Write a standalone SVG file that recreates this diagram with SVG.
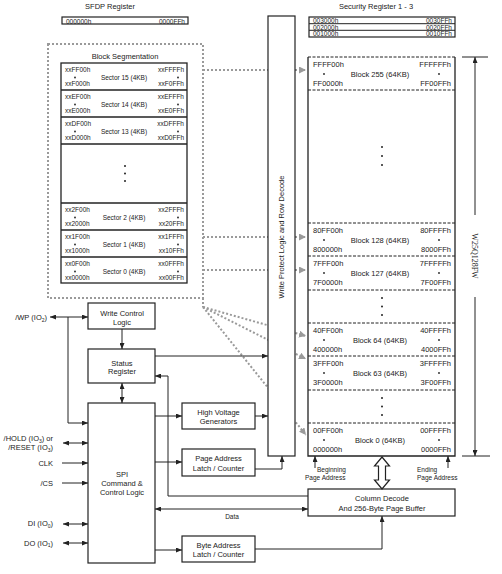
<svg xmlns="http://www.w3.org/2000/svg" width="502" height="574" viewBox="0 0 502 574">
<style>
.t{font-family:"Liberation Sans",Arial,sans-serif;fill:#222}
.a{font-size:7.5px}
.b{font-size:6.5px}
.m{text-anchor:middle}
.e{text-anchor:end}
.box{fill:#fff;stroke:#222;stroke-width:1.2}
.ln{fill:none;stroke:#222;stroke-width:1}
.dot{fill:none;stroke:#9a9a9a;stroke-width:2;stroke-dasharray:2 2}
.dsh{fill:none;stroke:#222;stroke-width:1;stroke-dasharray:3 1.5}
.bul{fill:#222}
</style>
<defs>
<marker id="ar" markerUnits="userSpaceOnUse" markerWidth="6" markerHeight="5" refX="6" refY="2.5" orient="auto-start-reverse"><path d="M0,0 L6,2.5 L0,5 z" fill="#222"/></marker>
<marker id="ag" markerUnits="userSpaceOnUse" markerWidth="8" markerHeight="7" refX="7" refY="3.5" orient="auto"><path d="M0,0 L7,3.5 L0,7 z" fill="#9a9a9a"/></marker>
</defs>

<!-- callout connectors (behind WP box) -->
<g id="callouts">
<path class="dot" d="M203,70 L306,70" marker-end="url(#ag)"/>
<path class="dot" d="M203,237 L306,237" marker-end="url(#ag)"/>
<path class="dot" d="M203,270 L306,270" marker-end="url(#ag)"/>
<path class="dot" d="M203,298 L203,307"/>
<path class="dot" d="M203,307 L306,336" marker-end="url(#ag)"/>
<path class="dot" d="M203,307 L306,359" marker-end="url(#ag)"/>
<path class="dot" d="M203,307 L306,435" marker-end="url(#ag)"/>
</g>

<!-- titles -->
<g id="sfdp">
<text class="t a m" x="110" y="9">SFDP Register</text>
<rect class="box" x="62" y="17" width="126" height="7" stroke-width="1"/>
<text class="t b" x="66" y="23.5">000000h</text>
<text class="t b e" x="185" y="23.5">0000FFh</text>
</g>

<g id="security">
<text class="t a m" x="376" y="9">Security Register 1 - 3</text>
<rect class="box" x="309" y="17" width="146" height="20" stroke-width="1"/>
<line class="ln" x1="309" y1="23.7" x2="455" y2="23.7"/>
<line class="ln" x1="309" y1="30.3" x2="455" y2="30.3"/>
<text class="t b" x="313" y="23">003000h</text><text class="t b e" x="452" y="23">0030FFh</text>
<text class="t b" x="313" y="29.7">002000h</text><text class="t b e" x="452" y="29.7">0020FFh</text>
<text class="t b" x="313" y="36.3">001000h</text><text class="t b e" x="452" y="36.3">0010FFh</text>
</g>

<!-- block segmentation -->
<g id="block-segmentation">
<rect class="dot" x="48" y="44" width="155" height="254" stroke-width="2.2"/>
<text class="t a m" x="125" y="59">Block Segmentation</text>
<rect x="61" y="63" width="126" height="220" fill="#fff" stroke="#222" stroke-width="1.3"/>
<g stroke="#222" stroke-width="1.3">
<line x1="61" y1="90" x2="187" y2="90"/><line x1="61" y1="117" x2="187" y2="117"/>
<line x1="61" y1="144" x2="187" y2="144"/><line x1="61" y1="203" x2="187" y2="203"/>
<line x1="61" y1="230" x2="187" y2="230"/><line x1="61" y1="257" x2="187" y2="257"/>
</g>
<g class="t b">
<text x="65" y="72">xxFF00h</text><text class="e" x="184" y="72">xxFFFFh</text>
<text x="65" y="86">xxF000h</text><text class="e" x="184" y="86">xxF0FFh</text>
<text class="m" x="124" y="79.5">Sector 15 (4KB)</text>
<text x="65" y="99">xxEF00h</text><text class="e" x="184" y="99">xxEFFFh</text>
<text x="65" y="113">xxE000h</text><text class="e" x="184" y="113">xxE0FFh</text>
<text class="m" x="124" y="106.5">Sector 14 (4KB)</text>
<text x="65" y="126">xxDF00h</text><text class="e" x="184" y="126">xxDFFFh</text>
<text x="65" y="140">xxD000h</text><text class="e" x="184" y="140">xxD0FFh</text>
<text class="m" x="124" y="133.5">Sector 13 (4KB)</text>
<text x="65" y="212">xx2F00h</text><text class="e" x="184" y="212">xx2FFFh</text>
<text x="65" y="226">xx2000h</text><text class="e" x="184" y="226">xx20FFh</text>
<text class="m" x="124" y="219.5">Sector 2 (4KB)</text>
<text x="65" y="239">xx1F00h</text><text class="e" x="184" y="239">xx1FFFh</text>
<text x="65" y="253">xx1000h</text><text class="e" x="184" y="253">xx10FFh</text>
<text class="m" x="124" y="246.5">Sector 1 (4KB)</text>
<text x="65" y="266">xx0F00h</text><text class="e" x="184" y="266">xx0FFFh</text>
<text x="65" y="280">xx0000h</text><text class="e" x="184" y="280">xx00FFh</text>
<text class="m" x="124" y="273.5">Sector 0 (4KB)</text>
</g>
<g class="bul">
<circle cx="75" cy="77.5" r="0.9"/><circle cx="178" cy="77.5" r="0.9"/>
<circle cx="75" cy="104.5" r="0.9"/><circle cx="178" cy="104.5" r="0.9"/>
<circle cx="75" cy="131.5" r="0.9"/><circle cx="178" cy="131.5" r="0.9"/>
<circle cx="75" cy="217.5" r="0.9"/><circle cx="178" cy="217.5" r="0.9"/>
<circle cx="75" cy="244.5" r="0.9"/><circle cx="178" cy="244.5" r="0.9"/>
<circle cx="75" cy="271.5" r="0.9"/><circle cx="178" cy="271.5" r="0.9"/>
<circle cx="125" cy="166" r="1"/><circle cx="125" cy="173.5" r="1"/><circle cx="125" cy="181" r="1"/>
</g>
</g>

<!-- write protect logic -->
<g id="write-protect">
<rect class="box" x="268" y="16" width="27" height="440"/>
<text class="t a m" transform="translate(284,237) rotate(-90)">Write Protect Logic and Row Decode</text>
</g>

<!-- memory array -->
<g id="memory-array">
<rect x="308" y="57" width="147" height="399" fill="#fff"/>
<path d="M308,57 L308,456 L455,456 L455,57" fill="none" stroke="#222" stroke-width="1.3"/>
<g class="dsh">
<line x1="308" y1="57" x2="455" y2="57"/><line x1="308" y1="90" x2="455" y2="90"/>
<line x1="308" y1="223" x2="455" y2="223"/><line x1="308" y1="256" x2="455" y2="256"/>
<line x1="308" y1="290" x2="455" y2="290"/><line x1="308" y1="323" x2="455" y2="323"/>
<line x1="308" y1="356" x2="455" y2="356"/><line x1="308" y1="390" x2="455" y2="390"/>
<line x1="308" y1="423" x2="455" y2="423"/>
</g>
<g class="t a">
<text x="313" y="66.5">FFFF00h</text><text class="e" x="451" y="66.5">FFFFFFh</text>
<text x="313" y="85.5">FF0000h</text><text class="e" x="451" y="85.5">FF00FFh</text>
<text class="m" x="380" y="76.5">Block 255 (64KB)</text>
<text x="313" y="232.5">80FF00h</text><text class="e" x="451" y="232.5">80FFFFh</text>
<text x="313" y="251.5">800000h</text><text class="e" x="451" y="251.5">8000FFh</text>
<text class="m" x="380" y="242.5">Block 128 (64KB)</text>
<text x="313" y="265.5">7FFF00h</text><text class="e" x="451" y="265.5">7FFFFFh</text>
<text x="313" y="284.5">7F0000h</text><text class="e" x="451" y="284.5">7F00FFh</text>
<text class="m" x="380" y="275.5">Block 127 (64KB)</text>
<text x="313" y="332.5">40FF00h</text><text class="e" x="451" y="332.5">40FFFFh</text>
<text x="313" y="351.5">400000h</text><text class="e" x="451" y="351.5">4000FFh</text>
<text class="m" x="380" y="342.5">Block 64 (64KB)</text>
<text x="313" y="365.5">3FFF00h</text><text class="e" x="451" y="365.5">3FFFFFh</text>
<text x="313" y="384.5">3F0000h</text><text class="e" x="451" y="384.5">3F00FFh</text>
<text class="m" x="380" y="375.5">Block 63 (64KB)</text>
<text x="313" y="432.5">00FF00h</text><text class="e" x="451" y="432.5">00FFFFh</text>
<text x="313" y="451.5">000000h</text><text class="e" x="451" y="451.5">0000FFh</text>
<text class="m" x="380" y="442.5">Block 0 (64KB)</text>
</g>
<g class="bul">
<circle cx="324" cy="74" r="0.9"/><circle cx="439" cy="74" r="0.9"/>
<circle cx="324" cy="240" r="0.9"/><circle cx="439" cy="240" r="0.9"/>
<circle cx="324" cy="273" r="0.9"/><circle cx="439" cy="273" r="0.9"/>
<circle cx="324" cy="340" r="0.9"/><circle cx="439" cy="340" r="0.9"/>
<circle cx="324" cy="373" r="0.9"/><circle cx="439" cy="373" r="0.9"/>
<circle cx="324" cy="440" r="0.9"/><circle cx="439" cy="440" r="0.9"/>
<circle cx="382" cy="147" r="1"/><circle cx="382" cy="156" r="1"/><circle cx="382" cy="165" r="1"/>
<circle cx="382" cy="298" r="1"/><circle cx="382" cy="306.5" r="1"/><circle cx="382" cy="315" r="1"/>
<circle cx="382" cy="398" r="1"/><circle cx="382" cy="406.5" r="1"/><circle cx="382" cy="415" r="1"/>
</g>
</g>

<!-- dimension -->
<g id="dimension">
<line class="ln" x1="462" y1="57" x2="488" y2="57"/>
<line class="ln" x1="462" y1="456" x2="490" y2="456"/>
<line class="ln" x1="475" y1="215" x2="475" y2="57" marker-end="url(#ar)"/>
<line class="ln" x1="475" y1="297" x2="475" y2="456" marker-end="url(#ar)"/>
<text font-family="'Liberation Serif','Times New Roman',serif" font-size="8" fill="#222" text-anchor="middle" transform="translate(472,256) rotate(90)">W25Q128FW</text>
</g>

<!-- control blocks -->
<g id="write-control"><rect class="box" x="88" y="303" width="67" height="26"/>
<text class="t a m" x="122" y="315.5">Write Control</text><text class="t a m" x="122" y="324.5">Logic</text></g>
<g id="status-register"><rect class="box" x="88" y="349" width="67" height="34"/>
<text class="t a m" x="122" y="365.5">Status</text><text class="t a m" x="122" y="373.5">Register</text></g>
<g id="spi"><rect class="box" x="88" y="403" width="67" height="160"/>
<text class="t a m" x="122" y="476.5">SPI</text><text class="t a m" x="122" y="485.5">Command &amp;</text><text class="t a m" x="122" y="494.5">Control Logic</text></g>
<g id="high-voltage"><rect class="box" x="182" y="403" width="73" height="26"/>
<text class="t a m" x="218.5" y="415">High Voltage</text><text class="t a m" x="218.5" y="423.5">Generators</text></g>
<g id="page-address"><rect class="box" x="182" y="449" width="73" height="27"/>
<text class="t a m" x="218.5" y="460.5">Page Address</text><text class="t a m" x="218.5" y="470.5">Latch / Counter</text></g>
<g id="byte-address"><rect class="box" x="182" y="536" width="73" height="26"/>
<text class="t a m" x="218.5" y="548">Byte Address</text><text class="t a m" x="218.5" y="556.5">Latch / Counter</text></g>
<g id="column-decode"><rect class="box" x="308" y="489" width="147" height="27"/>
<text class="t a m" x="382" y="500.5">Column Decode</text><text class="t a m" x="382" y="510.5">And 256-Byte Page Buffer</text></g>

<!-- pin labels -->
<g id="pins" class="t a">
<text class="e" x="47" y="320">/WP (IO<tspan font-size="5" dy="1.5">2</tspan><tspan dy="-1.5">)</tspan></text>
<text class="e" x="53" y="441">/HOLD (IO<tspan font-size="5" dy="1.5">3</tspan><tspan dy="-1.5">) or</tspan></text>
<text class="e" x="53" y="450">/RESET (IO<tspan font-size="5" dy="1.5">3</tspan><tspan dy="-1.5">)</tspan></text>
<text class="e" x="53" y="465.5">CLK</text>
<text class="e" x="53" y="485.5">/CS</text>
<text class="e" x="53" y="526">DI (IO<tspan font-size="5" dy="1.5">0</tspan><tspan dy="-1.5">)</tspan></text>
<text class="e" x="53" y="545.5">DO (IO<tspan font-size="5" dy="1.5">1</tspan><tspan dy="-1.5">)</tspan></text>
</g>
<g id="labels" class="t b">
<text class="m" x="232" y="519">Data</text>
<text x="317" y="471.5">Beginning</text><text x="305" y="480">Page Address</text>
<text x="417" y="471.5">Ending</text><text x="417" y="480">Page Address</text>
</g>

<!-- connectors -->
<g id="connectors" class="ln">
<line x1="50" y1="317" x2="88" y2="317" marker-start="url(#ar)" marker-end="url(#ar)"/>
<polyline points="68,317 68,423 88,423" marker-end="url(#ar)"/>
<line x1="63" y1="443" x2="88" y2="443" marker-start="url(#ar)" marker-end="url(#ar)"/>
<line x1="62" y1="463" x2="88" y2="463" marker-end="url(#ar)"/>
<line x1="62" y1="483" x2="88" y2="483" marker-end="url(#ar)"/>
<line x1="63" y1="524" x2="88" y2="524" marker-start="url(#ar)" marker-end="url(#ar)"/>
<line x1="63" y1="543" x2="88" y2="543" marker-start="url(#ar)" marker-end="url(#ar)"/>
<line x1="122" y1="329" x2="122" y2="349" marker-end="url(#ar)"/>
<line x1="122" y1="383" x2="122" y2="403" marker-start="url(#ar)" marker-end="url(#ar)"/>
<line x1="155" y1="356" x2="268" y2="356" marker-end="url(#ar)"/>
<polyline points="308,496 168,496 168,376 155,376" marker-end="url(#ar)"/>
<line x1="155" y1="416" x2="182" y2="416" marker-end="url(#ar)"/>
<line x1="255" y1="416" x2="268" y2="416" marker-end="url(#ar)"/>
<line x1="155" y1="462" x2="182" y2="462" marker-end="url(#ar)"/>
<polyline points="255,469 282,469 282,456" marker-end="url(#ar)"/>
<line x1="155" y1="509" x2="308" y2="509" marker-start="url(#ar)" marker-end="url(#ar)"/>
<line x1="155" y1="550" x2="182" y2="550" marker-end="url(#ar)"/>
<polyline points="255,549 382,549 382,516" marker-end="url(#ar)"/>
<line x1="315" y1="468" x2="315" y2="456" marker-end="url(#ar)"/>
<line x1="448" y1="468" x2="448" y2="456" marker-end="url(#ar)"/>
<polygon points="382,457 389.5,466 385.5,466 385.5,480 389.5,480 382,489 374.5,480 378.5,480 378.5,466 374.5,466" fill="#fff" stroke="#222" stroke-width="1.2"/>
</g>
</svg>
